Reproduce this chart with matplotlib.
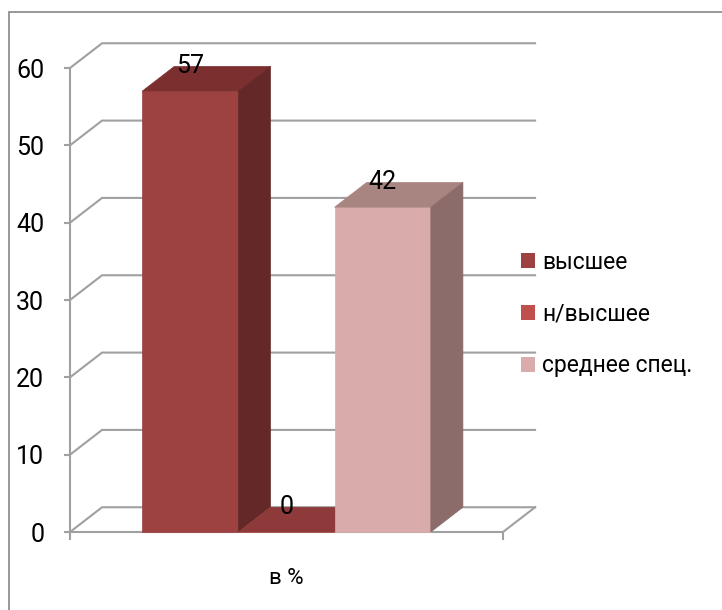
import matplotlib.pyplot as plt
from matplotlib.patches import Polygon, Rectangle, Patch

categories = ['высшее', 'н/высшее', 'среднее спец.']
values = [57, 0, 42]
group_label = 'в %'
yticks = [0, 10, 20, 30, 40, 50, 60]

front_colors = ['#9D4141', '#C0504D', '#DAABAB']
top_colors = ['#7B2F2F', '#8F3A3A', '#A88581']
side_colors = ['#652828', '#7A3130', '#8B6C6A']

plt.rcParams['font.family'] = ['Roboto', 'DejaVu Sans']

W, H = 722, 610
fig = plt.figure(figsize=(W / 100, H / 100), dpi=100)
ax = fig.add_axes([70 / W, 1 - 532 / H, (503 - 70) / W, (532 - 68) / H])
ax.set_xlim(-0.75, 3.75)
ax.set_ylim(0, 60)

# 3d depth offset (category units, value units)
dx, dy = 1 / 3, 3.2
GRID = '#A0A0A0'

x0, x1 = ax.get_xlim()
for v in yticks:
    ax.plot([x0, x0 + dx, x1 + dx], [v, v + dy, v + dy], color=GRID, lw=1.5,
            clip_on=False, zorder=1, solid_joinstyle='miter')
ax.plot([x1, x1 + dx], [0, dy], color=GRID, lw=1.5, clip_on=False, zorder=1)

# bars, left to right so later faces overlap earlier side faces
for i, v in enumerate(values):
    l, r = i, i + 1
    kw = dict(clip_on=False, zorder=2, lw=0.5)
    ax.add_patch(Rectangle((l, 0), 1, v, fc=front_colors[i], ec=front_colors[i], **kw))
    ax.add_patch(Polygon([(l, v), (r, v), (r + dx, v + dy), (l + dx, v + dy)],
                         fc=top_colors[i], ec=top_colors[i], **kw))
    if v > 0:
        ax.add_patch(Polygon([(r, 0), (r + dx, dy), (r + dx, v + dy), (r, v)],
                             fc=side_colors[i], ec=side_colors[i], **kw))
    ax.annotate(str(v), (l + 0.5, v), xytext=(0, 13), textcoords='offset points',
                ha='center', va='baseline', fontsize=18, zorder=3)

for s in ['top', 'right']:
    ax.spines[s].set_visible(False)
for s in ['left', 'bottom']:
    ax.spines[s].set_color(GRID)
    ax.spines[s].set_linewidth(1.5)
    ax.spines[s].set_zorder(1)

ax.set_yticks(yticks)
ax.tick_params(axis='y', length=4.5, width=1.5, color=GRID, pad=14, labelsize=18)
ax.set_xticks([1.5], [group_label])
ax.set_xticks([x0, x1], minor=True)
ax.tick_params(axis='x', which='major', length=0, pad=26, labelsize=16)
ax.tick_params(axis='x', which='minor', length=6, width=1.5, color=GRID)
ax.set_facecolor('none')

handles = [Patch(fc=c) for c in front_colors]
ax.legend(handles, categories, loc='center left', bbox_to_anchor=(521 / W, 1 - 314 / H),
          bbox_transform=fig.transFigure, frameon=False, fontsize=16.5,
          handlelength=0.62, handleheight=0.62, handletextpad=0.3,
          labelspacing=1.25, borderpad=0, borderaxespad=0)

# chart frame (only top and left edges fall inside the image)
fig.add_artist(Rectangle((9 / W, -0.1), 1, 1.1 - 12 / H, transform=fig.transFigure,
                         fill=False, ec='#868686', lw=1.2))

fig.savefig('out.png', dpi=100)
